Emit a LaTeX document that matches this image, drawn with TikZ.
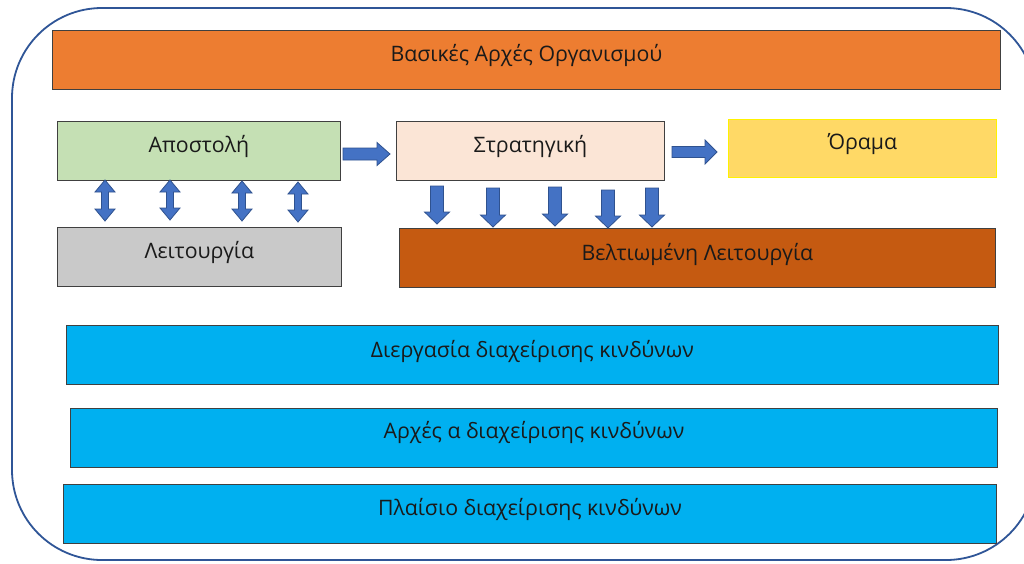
\documentclass[tikz,border=0pt]{standalone}
\usepackage{fontspec}
\setmainfont{Open Sans}
\usetikzlibrary{calc}

\definecolor{frameblue}{HTML}{2F5597}
\definecolor{boxline}{HTML}{404040}
\definecolor{orangebox}{HTML}{ED7D31}
\definecolor{greenbox}{HTML}{C5E0B4}
\definecolor{peachbox}{HTML}{FBE5D6}
\definecolor{goldbox}{HTML}{FFD966}
\definecolor{greybox}{HTML}{C9C9C9}
\definecolor{brownbox}{HTML}{C55A11}
\definecolor{cyanbox}{HTML}{00B0F0}
\definecolor{arrowfill}{HTML}{4472C4}
\definecolor{arrowline}{HTML}{2F528F}
\definecolor{labeltext}{HTML}{1A1A1A}

% block arrow pointing right: x1, x2, y, shaft half, head half, head length
\newcommand\rightblock[6]{%
  \path[blockarrow] ({#1},{#3-#4}) -- ({#2-#6},{#3-#4}) -- ({#2-#6},{#3-#5})
    -- ({#2},{#3}) -- ({#2-#6},{#3+#5}) -- ({#2-#6},{#3+#4}) -- ({#1},{#3+#4}) -- cycle;}
% block arrow pointing down: x, y1, y2, shaft half, head half, head length
\newcommand\downblock[6]{%
  \path[blockarrow] ({#1-#4},{#2}) -- ({#1-#4},{#3-#6}) -- ({#1-#5},{#3-#6})
    -- ({#1},{#3}) -- ({#1+#5},{#3-#6}) -- ({#1+#4},{#3-#6}) -- ({#1+#4},{#2}) -- cycle;}
% two-headed vertical block arrow: x, y1, y2, shaft half, head half, head length
\newcommand\updownblock[6]{%
  \path[blockarrow] ({#1},{#2}) -- ({#1+#5},{#2+#6}) -- ({#1+#4},{#2+#6})
    -- ({#1+#4},{#3-#6}) -- ({#1+#5},{#3-#6}) -- ({#1},{#3}) -- ({#1-#5},{#3-#6})
    -- ({#1-#4},{#3-#6}) -- ({#1-#4},{#2+#6}) -- ({#1-#5},{#2+#6}) -- cycle;}

\begin{document}
\begin{tikzpicture}[x=1pt,y=-1pt,
  panel/.style={draw=boxline, line width=0.9pt, rectangle, anchor=north west,
    inner sep=0pt, text height=31pt, text depth=28pt, text=labeltext,
    font=\fontsize{21.3}{25}\selectfont},
  blockarrow/.style={fill=arrowfill, draw=arrowline, line width=0.8pt, line join=miter}]
\useasboundingbox (0,0) rectangle (1024,563);
\fill[white] (0,0) rectangle (1024,563);

% outer frame
\draw[frameblue, line width=1.8pt, rounded corners=90pt] (12,8) rectangle (1036,560);

% boxes
\node[panel, fill=orangebox, minimum width=948pt] (basic) at (52,30) {Βασικές Αρχές Οργανισμού};
\node[panel, fill=greenbox, minimum width=283pt] (mission) at (57,121) {Αποστολή};
\node[panel, fill=peachbox, minimum width=268pt] (strategy) at (396,121) {Στρατηγική};
\node[panel, fill=goldbox, draw=yellow, minimum width=268pt, text height=30pt] (vision) at (728,119) {Όραμα};
\node[panel, fill=greybox, minimum width=284pt] (operation) at (57,227) {Λειτουργία};
\node[panel, fill=brownbox, minimum width=596pt, text height=32pt, text depth=27pt] (improved) at (399,228) {Βελτιωμένη Λειτουργία};
\node[panel, fill=cyanbox, minimum width=932pt, text height=32pt, text depth=27pt] (process) at (66,325) {Διεργασία διαχείρισης κινδύνων};
\node[panel, fill=cyanbox, minimum width=927pt, text height=30pt, text depth=29pt] (principles) at (70,408) {Αρχές α διαχείρισης κινδύνων};
\node[panel, fill=cyanbox, minimum width=933pt] (framework) at (63,484) {Πλαίσιο διαχείρισης κινδύνων};

% mission -> strategy -> vision
\rightblock{343}{390}{154}{6}{11.5}{13}
\rightblock{672}{717}{152}{5.5}{12}{12}

% mission <-> operation
\updownblock{105}{180}{221}{3.5}{10}{12}
\updownblock{170}{180}{220}{3.5}{10}{12}
\updownblock{242}{181}{221}{3.5}{10}{12}
\updownblock{298}{182}{222}{3.5}{10}{12}

% strategy -> improved operation
\downblock{437}{186}{224}{6.5}{12.5}{12}
\downblock{493}{188}{227}{6.5}{12.5}{12}
\downblock{555}{187}{226}{6.5}{12.5}{12}
\downblock{608}{190}{228}{6.5}{12.5}{12}
\downblock{652}{188}{227}{6.5}{12.5}{12}
\end{tikzpicture}
\end{document}
